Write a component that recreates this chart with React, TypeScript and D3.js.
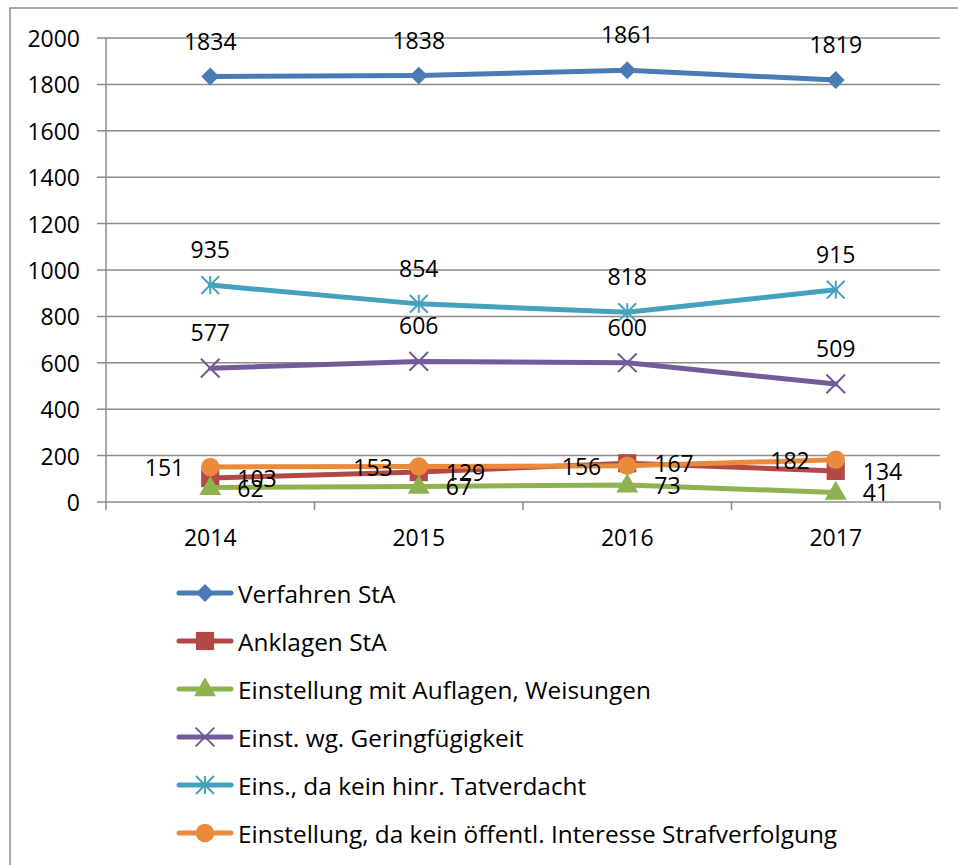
import React from "react";
import * as d3 from "d3";

const years = ["2014", "2015", "2016", "2017"];
const yTicks = [0, 200, 400, 600, 800, 1000, 1200, 1400, 1600, 1800, 2000];

const seriesNames = [
  "Verfahren StA",
  "Anklagen StA",
  "Einstellung mit Auflagen, Weisungen",
  "Einst. wg. Geringfügigkeit",
  "Eins., da kein hinr. Tatverdacht",
  "Einstellung, da kein öffentl. Interesse Strafverfolgung",
];
const verfahren = [1834, 1838, 1861, 1819];
const anklagen = [103, 129, 167, 134];
const auflagen = [62, 67, 73, 41];
const geringfuegigkeit = [577, 606, 600, 509];
const tatverdacht = [935, 854, 818, 915];
const interesse = [151, 153, 156, 182];

const seriesValues = [verfahren, anklagen, auflagen, geringfuegigkeit, tatverdacht, interesse];
const seriesColors = ["#4A7BB5", "#B34845", "#8FB250", "#745A98", "#44A2BD", "#EA8A3D"];
const seriesMarkers = ["diamond", "square", "triangle", "x", "star", "circle"];
const labelPos = ["top", "right", "right", "top", "top", "left"];

const W = 958;
const H = 865;
const plotLeft = 106;
const plotRight = 940;
const plotTop = 38;
const plotBottom = 502;
const FONT = "'Open Sans', Lato, sans-serif";
const FS = 23;
const FS_LEGEND = 24.4;

function Marker({ type, x, y, color }: { type: string; x: number; y: number; color: string }) {
  if (type === "diamond") {
    const p = d3.symbol().type(d3.symbolSquare).size(160)();
    return <path d={p || ""} transform={`translate(${x},${y}) rotate(45)`} fill={color} />;
  }
  if (type === "square") {
    const p = d3.symbol().type(d3.symbolSquare).size(330)();
    return <path d={p || ""} transform={`translate(${x},${y})`} fill={color} />;
  }
  if (type === "triangle") {
    const p = d3.symbol().type(d3.symbolTriangle).size(210)();
    return <path d={p || ""} transform={`translate(${x},${y + 1})`} fill={color} />;
  }
  if (type === "circle") {
    const p = d3.symbol().type(d3.symbolCircle).size(270)();
    return <path d={p || ""} transform={`translate(${x},${y})`} fill={color} />;
  }
  if (type === "x") {
    const p = d3.symbol().type(d3.symbolTimes).size(230)();
    return <path d={p || ""} transform={`translate(${x},${y})`} fill="none" stroke={color} strokeWidth={2} />;
  }
  // star: X plus vertical line
  const p1 = d3.symbol().type(d3.symbolTimes).size(210)();
  const r = 9;
  return (
    <g transform={`translate(${x},${y})`} stroke={color} strokeWidth={2} fill="none">
      <path d={p1 || ""} />
      <line x1={0} y1={-r} x2={0} y2={r} />
    </g>
  );
}

export default function App() {
  const x = d3.scaleBand<string>().domain(years).range([plotLeft, plotRight]);
  const y = d3.scaleLinear().domain([0, 2000]).range([plotBottom, plotTop]);
  const cx = (yr: string) => (x(yr) || 0) + x.bandwidth() / 2;
  const line = d3
    .line<number>()
    .x((_, i) => cx(years[i]))
    .y((v) => y(v));

  const boundaries = [...years.map((yr) => x(yr) || 0), plotRight];

  const legendTop = 593;
  const legendStep = 48;

  return (
    <svg
      width={W}
      height={H}
      style={{ position: "absolute", left: 0, top: 0, background: "#fff" }}
      fontFamily={FONT}
    >
      <rect x={0} y={0} width={W} height={H} fill="#fff" />
      <rect x={10} y={8} width={W + 20} height={H + 20} fill="none" stroke="#8C8C8C" strokeWidth={1.5} />

      {/* gridlines */}
      {yTicks.map((t) => (
        <line key={t} x1={plotLeft - 9} x2={plotRight} y1={y(t)} y2={y(t)} stroke="#8C8C8C" strokeWidth={1.5} />
      ))}
      <line x1={plotLeft} x2={plotLeft} y1={plotTop} y2={plotBottom} stroke="#8C8C8C" strokeWidth={1.5} />
      {boundaries.map((b, i) => (
        <line key={i} x1={b} x2={b} y1={plotBottom} y2={plotBottom + 8} stroke="#8C8C8C" strokeWidth={1.5} />
      ))}

      {/* y labels */}
      {yTicks.map((t) => (
        <text key={t} x={80} y={y(t)} textAnchor="end" dominantBaseline="central" fontSize={FS} fill="#000">
          {t}
        </text>
      ))}
      {/* x labels */}
      {years.map((yr) => (
        <text key={yr} x={cx(yr)} y={537} textAnchor="middle" dominantBaseline="central" fontSize={FS} fill="#000">
          {yr}
        </text>
      ))}

      {/* lines */}
      {seriesValues.map((vals, si) => (
        <g key={si}>
          <path d={line(vals) || ""} fill="none" stroke={seriesColors[si]} strokeWidth={5} strokeLinejoin="round" strokeLinecap="round" />
          {vals.map((v, i) => (
            <Marker key={i} type={seriesMarkers[si]} x={cx(years[i])} y={y(v)} color={seriesColors[si]} />
          ))}
        </g>
      ))}

      {/* data labels */}
      {seriesValues.map((vals, si) =>
        vals.map((v, i) => {
          const px = cx(years[i]);
          const py = y(v);
          const pos = labelPos[si];
          if (pos === "top")
            return (
              <text key={`${si}-${i}`} x={px} y={py - 36} textAnchor="middle" dominantBaseline="central" fontSize={FS} fill="#000">
                {v}
              </text>
            );
          if (pos === "left")
            return (
              <text key={`${si}-${i}`} x={px - 26} y={py} textAnchor="end" dominantBaseline="central" fontSize={FS} fill="#000">
                {v}
              </text>
            );
          return (
            <text key={`${si}-${i}`} x={px + 27} y={py} textAnchor="start" dominantBaseline="central" fontSize={FS} fill="#000">
              {v}
            </text>
          );
        })
      )}

      {/* legend */}
      {seriesNames.map((name, si) => {
        const ly = legendTop + si * legendStep;
        return (
          <g key={name}>
            <line x1={179} x2={231} y1={ly} y2={ly} stroke={seriesColors[si]} strokeWidth={5} strokeLinecap="round" />
            <Marker type={seriesMarkers[si]} x={205} y={ly} color={seriesColors[si]} />
            <text x={238} y={ly} dominantBaseline="central" fontSize={FS_LEGEND} fill="#000">
              {name}
            </text>
          </g>
        );
      })}
    </svg>
  );
}
